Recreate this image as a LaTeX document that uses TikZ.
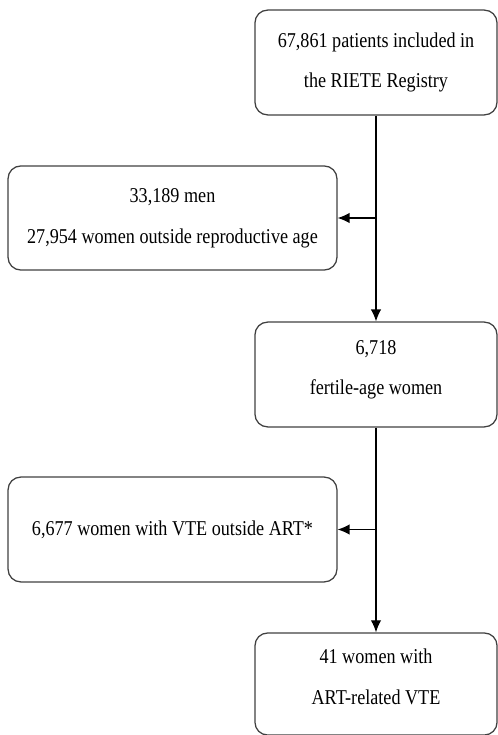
\documentclass[tikz,border=0pt]{standalone}
\usepackage{fontspec}
\setmainfont{Liberation Serif}[FakeStretch=0.86]
\usetikzlibrary{shapes,arrows.meta}

\begin{document}
\begin{tikzpicture}[x=0.025cm,y=-0.025cm,
  box/.style={rectangle,rounded corners=9pt,draw=black!75,line width=0.9pt,
    align=center,text=black,font=\fontsize{15}{29}\selectfont}]
  \useasboundingbox (0,0) rectangle (498,735);

  \node[box,minimum width=6.05cm,minimum height=2.62cm] (reg) at (376,62.5) {67,861 patients included in\\the RIETE Registry};
  \node[box,minimum width=8.22cm,minimum height=2.6cm] (excl) at (172.5,218) {33,189 men\\27,954 women outside reproductive age};
  \node[box,minimum width=6.05cm,minimum height=2.62cm] (fert) at (376,374.5) {6,718\\fertile-age women\\[-19pt]};
  \node[box,minimum width=8.22cm,minimum height=2.62cm] (other) at (172.5,529.5) {6,677 women with VTE outside ART*};
  \node[box,minimum width=6.05cm,minimum height=2.55cm] (art) at (376,684) {41 women with\\ART-related VTE\\[-19pt]};

  \coordinate (split1) at (reg.south |- excl.east);
  \coordinate (split2) at (fert.south |- other.east);

    \draw[->,>={Latex[length=3mm,width=2.6mm]},line width=0.9pt] (reg) -> (fert);
    \draw[->,>={Latex[length=3mm,width=2.6mm]},line width=0.9pt] (split1) -> (excl);
    \draw[->,>={Latex[length=3mm,width=2.6mm]},line width=0.9pt] (fert) -> (art);
    \draw[->,>={Latex[length=3mm,width=2.6mm]},line width=0.9pt] (split2) -> (other);

\end{tikzpicture}
\end{document}
